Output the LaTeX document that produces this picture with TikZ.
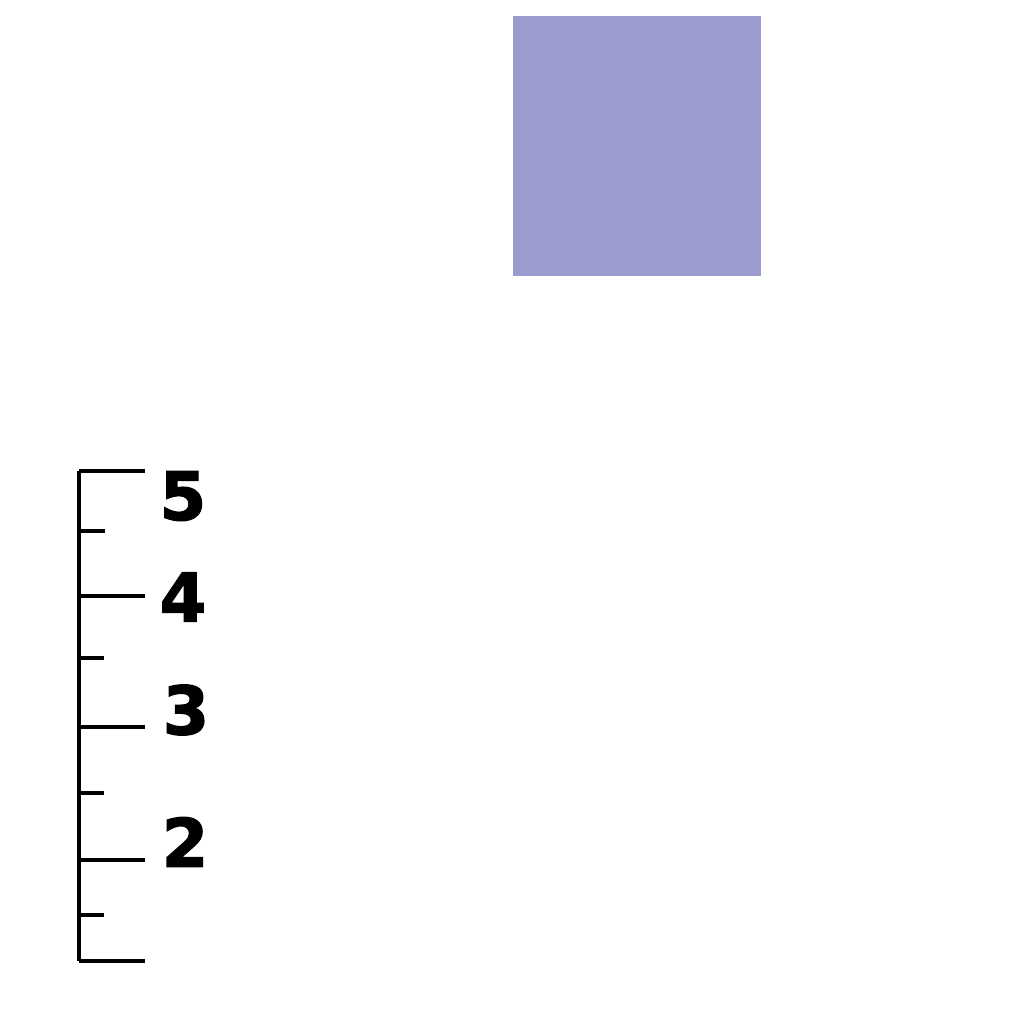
\documentclass[tikz,border=0pt]{standalone}
\usepackage{fontspec}
\newfontfamily\heavyfont[FakeBold=2]{DejaVu Sans Bold}
\usetikzlibrary{positioning}
\definecolor{lavender}{RGB}{155,155,208}

\begin{document}
\begin{tikzpicture}[
    x=0.01cm, y=-0.01cm,
    block/.style={rectangle, fill=lavender, draw=none, inner sep=0pt,
                  minimum width=2.48cm, minimum height=2.60cm},
    rule/.style={line width=1.3pt, black},
    major/.style={line width=1.3pt, black},
    minor/.style={line width=1.3pt, black},
    num/.style={font=\heavyfont\fontsize{19}{19}\selectfont, inner sep=0pt},
]
\useasboundingbox (0,0) rectangle (1024,1024);

% ── Square ──
\node[block] (sq) at (637,146) {};

% ── Ruler ──
\coordinate (top) at (79,471);
\coordinate (bot) at (79,961);
\draw[rule] (top) -- (bot);

\draw[major] (top) -- (145,471);
\draw[minor] (79,531) -- (105,531);
\draw[major] (79,596) -- (145,596);
\draw[minor] (79,658) -- (104,658);
\draw[major] (79,727) -- (145,727);
\draw[minor] (79,793) -- (104,793);
\draw[major] (79,860) -- (145,860);
\draw[minor] (79,915) -- (104,915);
\draw[major] (bot) -- (145,961);

% ── Labels ──
\node[num] (l5) at (183,496) {5};
\node[num] (l4) at (183,597) {4};
\node[num] (l3) at (186,710) {3};
\node[num] (l2) at (185,842) {2};

\end{tikzpicture}
\end{document}
